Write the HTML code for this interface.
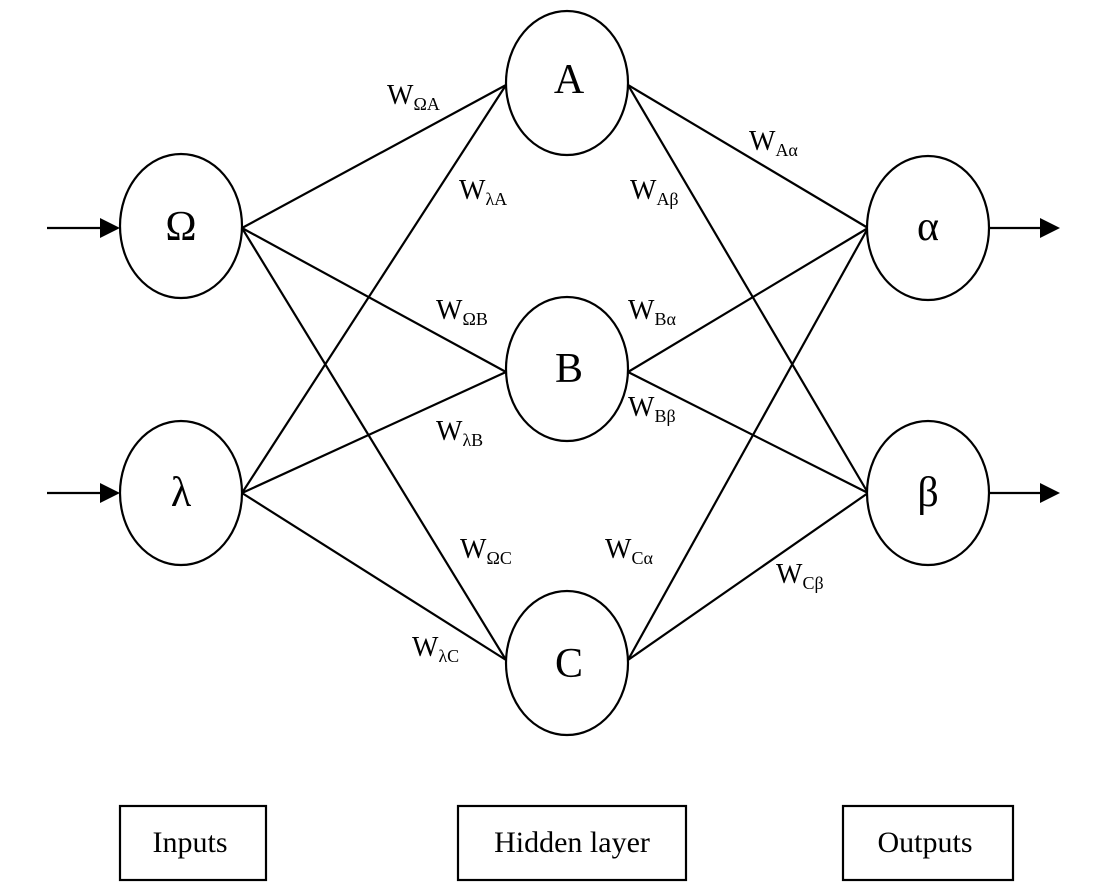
<!DOCTYPE html>
<html><head><style>body{margin:0;background:#fff}svg{display:block}</style></head><body>
<svg width="1116" height="888" viewBox="0 0 1116 888" xmlns="http://www.w3.org/2000/svg" font-family="Liberation Serif, serif">
<g stroke="#000" stroke-width="2.2" fill="none">
<line x1="47" y1="228" x2="105" y2="228"/>
<line x1="47" y1="493" x2="105" y2="493"/>
<path d="M100,218 L120,228 L100,238z M100,483 L120,493 L100,503z M1040,218 L1060,228 L1040,238z M1040,483 L1060,493 L1040,503z" fill="#000" stroke="none"/>
<line x1="989" y1="228" x2="1045" y2="228"/>
<line x1="989" y1="493" x2="1045" y2="493"/>
<line x1="242" y1="228" x2="506" y2="85"/>
<line x1="242" y1="228" x2="506" y2="372"/>
<line x1="242" y1="228" x2="506" y2="660"/>
<line x1="242" y1="493" x2="506" y2="85"/>
<line x1="242" y1="493" x2="506" y2="372"/>
<line x1="242" y1="493" x2="506" y2="660"/>
<line x1="628" y1="85" x2="868" y2="228"/>
<line x1="628" y1="85" x2="868" y2="493"/>
<line x1="628" y1="372" x2="868" y2="228"/>
<line x1="628" y1="372" x2="868" y2="493"/>
<line x1="628" y1="660" x2="868" y2="228"/>
<line x1="628" y1="660" x2="868" y2="493"/>
<g fill="#fff">
<ellipse cx="181" cy="226" rx="61" ry="72"/>
<ellipse cx="181" cy="493" rx="61" ry="72"/>
<ellipse cx="567" cy="83" rx="61" ry="72"/>
<ellipse cx="567" cy="369" rx="61" ry="72"/>
<ellipse cx="567" cy="663" rx="61" ry="72"/>
<ellipse cx="928" cy="228" rx="61" ry="72"/>
<ellipse cx="928" cy="493" rx="61" ry="72"/>
<rect x="120" y="806" width="146" height="74"/>
<rect x="458" y="806" width="228" height="74"/>
<rect x="843" y="806" width="170" height="74"/>
</g>
</g>
<g font-size="42" text-anchor="middle">
<text x="181" y="240">Ω</text>
<text x="181" y="506">λ</text>
<text x="569" y="93">A</text>
<text x="569" y="382">B</text>
<text x="569" y="677">C</text>
<text x="928" y="240">α</text>
<text x="928" y="506">β</text>
</g>
<g font-size="30" text-anchor="middle">
<text x="190" y="852">Inputs</text>
<text x="572" y="852">Hidden layer</text>
<text x="925" y="852">Outputs</text>
</g>
<g font-size="28">
<text x="387" y="104">W<tspan font-size="18" dy="6">ΩA</tspan></text>
<text x="459" y="199">W<tspan font-size="18" dy="6">λA</tspan></text>
<text x="630" y="199">W<tspan font-size="18" dy="6">Aβ</tspan></text>
<text x="749" y="150">W<tspan font-size="18" dy="6">Aα</tspan></text>
<text x="436" y="319">W<tspan font-size="18" dy="6">ΩB</tspan></text>
<text x="628" y="319">W<tspan font-size="18" dy="6">Bα</tspan></text>
<text x="628" y="416">W<tspan font-size="18" dy="6">Bβ</tspan></text>
<text x="436" y="440">W<tspan font-size="18" dy="6">λB</tspan></text>
<text x="460" y="558">W<tspan font-size="18" dy="6">ΩC</tspan></text>
<text x="605" y="558">W<tspan font-size="18" dy="6">Cα</tspan></text>
<text x="776" y="583">W<tspan font-size="18" dy="6">Cβ</tspan></text>
<text x="412" y="656">W<tspan font-size="18" dy="6">λC</tspan></text>
</g>
</svg>
</body></html>
